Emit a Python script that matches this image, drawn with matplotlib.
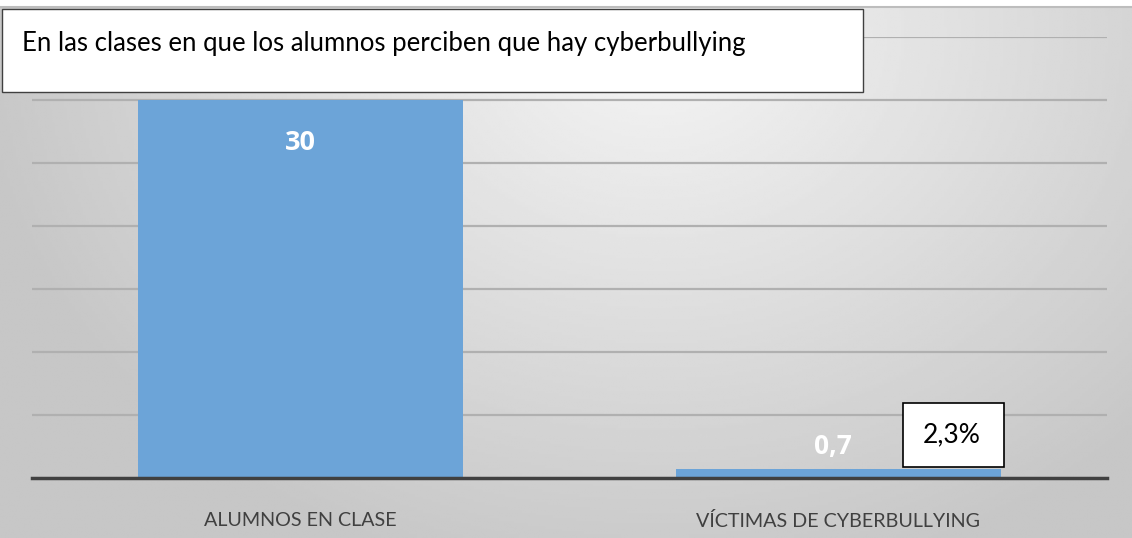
import numpy as np
import matplotlib.pyplot as plt
from matplotlib.patches import Rectangle

categories = ['ALUMNOS EN CLASE', 'VÍCTIMAS DE CYBERBULLYING']
values = [30, 0.7]
value_labels = ['30', '0,7']
title = 'En las clases en que los alumnos perciben que hay cyberbullying'
pct_label = '2,3%'

FONT = 'Lato'
W, H = 1132, 538
fig = plt.figure(figsize=(W / 100, H / 100), dpi=100)

# background gradient (light near top centre, grey towards edges)
bg = fig.add_axes([0, 0, 1, (H - 7) / H])
yy, xx = np.mgrid[0:1:200j, 0:1:400j]
r = np.sqrt(((xx - 0.58) / 0.8) ** 2 + ((yy - 0.05) / 1.4) ** 2)
shade = np.clip(0.96 - 0.24 * r, 0.78, 0.96)
bg.imshow(shade, cmap='gray', vmin=0, vmax=1, aspect='auto', extent=[0, 1, 0, 1], origin='upper')
bg.set_axis_off()
fig.add_artist(plt.Line2D([0, 1], [(H - 7) / H] * 2, color='#bdbdbd', lw=1.5, transform=fig.transFigure))

# plot area
x0, x1 = 32, 1107
y_base, y_top = 478, 37
ax = fig.add_axes([x0 / W, 1 - y_base / H, (x1 - x0) / W, (y_base - y_top) / H])
ax.patch.set_alpha(0)
x = np.arange(len(categories))
ax.bar(x, values, width=0.605, color='#6ca4d8', zorder=2)
ax.set_xlim(-0.5, 1.5)
ax.set_ylim(0, 35)
ax.set_yticks(np.arange(5, 36, 5))
ax.yaxis.grid(True, color='#b0b0b0', lw=1.6, zorder=0)
ax.tick_params(left=False, labelleft=False, bottom=False)
for s in ['top', 'right', 'left']:
    ax.spines[s].set_visible(False)
ax.spines['bottom'].set_color('#404040')
ax.spines['bottom'].set_linewidth(2.5)
ax.set_xticks(x)
ax.set_xticklabels(categories, fontsize=14.2, color='#404040', family=FONT)
ax.tick_params(axis='x', pad=21)

ax.text(0, values[0] - 3.4, value_labels[0], ha='center', va='center', color='white',
        fontsize=19.5, fontweight='bold', family='Open Sans', zorder=3)
ax.text(0.99, values[1] + 1.8, value_labels[1], ha='center', va='center', color='white',
        fontsize=19, fontweight='bold', family='Open Sans', zorder=3)

# title box
fig.add_artist(Rectangle((2 / W, 1 - 92 / H), (863 - 2) / W, (92 - 9) / H, transform=fig.transFigure,
                         facecolor='white', edgecolor='#404040', lw=1))
fig.text(22 / W, 1 - 44 / H, title, ha='left', va='center', fontsize=18.5, family=FONT, color='black')

# percentage box
fig.add_artist(Rectangle((903 / W, 1 - 467 / H), 101 / W, 64 / H, transform=fig.transFigure,
                         facecolor='white', edgecolor='black', lw=1.2, zorder=5))
fig.text(952 / W, 1 - 435 / H, pct_label, ha='center', va='center', fontsize=19, family=FONT,
         color='black', zorder=6)

fig.savefig('out.png', dpi=100)
